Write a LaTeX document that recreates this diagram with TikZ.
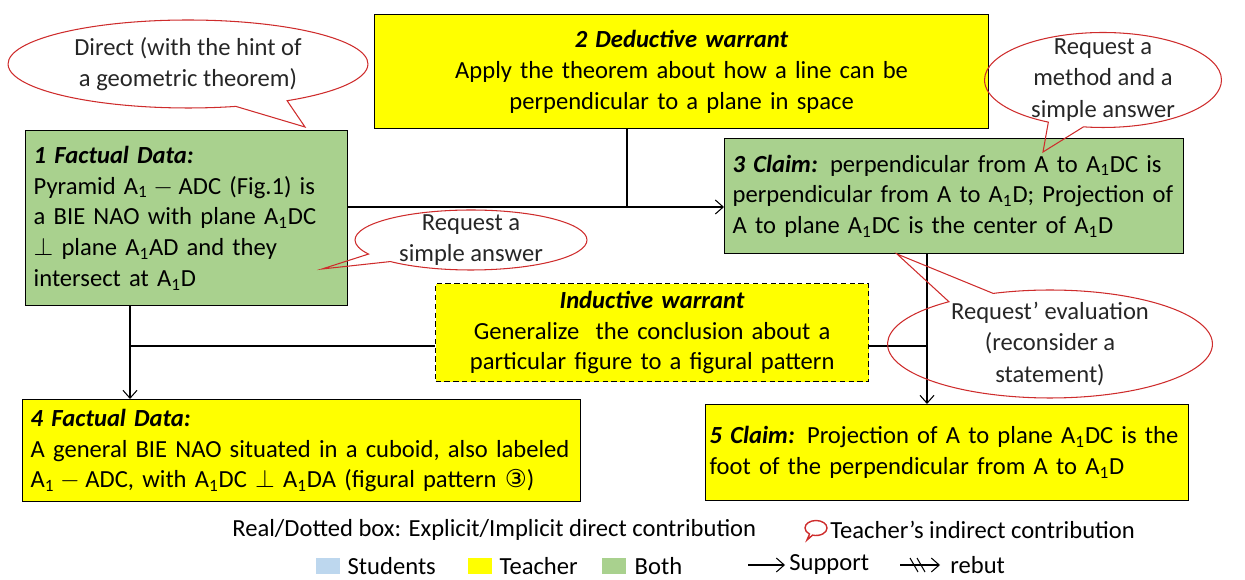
\documentclass[tikz,border=0pt]{standalone}
\usepackage{fontspec}
\setmainfont{Carlito}
\newfontfamily\symfont{DejaVu Sans}
\usepackage{tikz}
\usetikzlibrary{positioning,arrows.meta,shapes.callouts,calc}
\usepackage{xcolor}
\definecolor{teacher}{HTML}{FFFF00}
\definecolor{both}{HTML}{A9D18E}
\definecolor{students}{HTML}{BDD7EE}
\definecolor{callred}{RGB}{206,44,44}
\tikzset{
  argbox/.style={draw,thick,anchor=north west,inner xsep=0.16cm,inner ysep=0pt,
    font=\fontsize{14}{17.5}\selectfont},
  leftbox/.style={argbox,align=left},
  midbox/.style={argbox,align=center},
  implicit/.style={dash pattern=on 3pt off 2pt},
  bubble/.style={ellipse callout,draw=callred,semithick,inner sep=0pt,callout pointer arc=18},
  bubbletext/.style={align=center,font=\fontsize{14}{18}\selectfont,text=black!85},
  link/.style={draw,semithick},
  support/.style={link,-{Straight Barb[length=4.5pt,width=8pt]}},
  swatch/.style={minimum width=0.48cm,minimum height=0.32cm,inner sep=0pt},
  keytext/.style={inner sep=0pt,anchor=west,font=\fontsize{14}{16}\selectfont},
}
\newcommand{\mA}[1]{$\mathrm{#1}$}

\begin{document}
\begin{tikzpicture}[x=0.02cm,y=-0.02cm]
\useasboundingbox (0,0) rectangle (1245,580);

% argument boxes
\node[leftbox,fill=both,minimum width=6.44cm,minimum height=3.5cm,text width=6.12cm] (n1) at (25,130)
{\textbf{\textit{1 Factual Data:}}\\
Pyramid \mA{A_1-ADC} (Fig.1) is\\
a BIE NAO with plane \mA{A_1DC}\\
$\perp$ plane \mA{A_1AD} and they\\
intersect at \mA{A_1D}};

\node[midbox,fill=teacher,minimum width=12.28cm,minimum height=2.28cm,text width=11.96cm] (n2) at (374,14)
{\textbf{\textit{2 Deductive warrant}}\\
Apply the theorem about how a line can be\\
perpendicular to a plane in space};

\node[leftbox,fill=both,minimum width=9.18cm,minimum height=2.3cm,text width=8.86cm] (n3) at (724,138)
{\textbf{\textit{3 Claim:}} perpendicular from A to \mA{A_1DC} is\\
perpendicular from A to \mA{A_1D}; Projection of\\
A to plane \mA{A_1DC} is the center of \mA{A_1D}};

\node[midbox,implicit,fill=teacher,minimum width=8.66cm,minimum height=1.96cm,text width=8.34cm] (nw) at (435,283)
{\textbf{\textit{Inductive warrant}}\\
Generalize\ \ the conclusion about a\\
particular figure to a figural pattern};

\node[leftbox,fill=teacher,minimum width=11.16cm,minimum height=2.04cm,text width=10.84cm] (n4) at (22,399)
{\textbf{\textit{4 Factual Data:}}\\
A general BIE NAO situated in a cuboid, also labeled\\
\mA{A_1-ADC}, with \mA{A_1DC} $\perp$\ \mA{A_1DA} (figural pattern {\symfont ③})};

\node[leftbox,fill=teacher,inner xsep=0.08cm,minimum width=9.66cm,minimum height=1.92cm,text width=9.5cm] (n5) at (705,404)
{\textbf{\textit{5 Claim:}} Projection of A to plane \mA{A_1DC} is the\\
foot of the perpendicular from A to \mA{A_1D}};

% connectors
\coordinate (j2) at (627,207);
\coordinate (j4) at (130,346);
\coordinate (j5) at (927,346);
\draw[link] (n2.south -| j2) -- (j2);
\draw[support] (n1.east |- j2) -- (n3.west |- j2);
\draw[support] (n1.south -| j4) -- (n4.north -| j4);
\draw[link] (j4) -- (nw.west |- j4);
\draw[support] (n3.south -| j5) -- (n5.north -| j5);
\draw[link] (nw.east |- j5) -- (j5);

% teacher's indirect contributions
\coordinate (tipA) at (305,127);
\coordinate (tipB) at (322,269);
\coordinate (tipC) at (1043,152);
\coordinate (tipD) at (897,254);
\node[bubble,minimum width=7.2cm,minimum height=1.76cm,callout absolute pointer=(tipA),
  label={[bubbletext]center:Direct (with the hint of\\a geometric theorem)}] (cA) at (188,64) {};
\node[bubble,minimum width=4.64cm,minimum height=1.2cm,callout absolute pointer=(tipB),
  label={[bubbletext]center:Request a\\simple answer}] (cB) at (471,240) {};
\node[bubble,minimum width=4.74cm,minimum height=1.9cm,callout absolute pointer=(tipC),
  label={[bubbletext]center:Request a\\method and a\\simple answer}] (cC) at (1103,80) {};
\node[bubble,minimum width=6.5cm,minimum height=2.16cm,callout absolute pointer=(tipD),
  label={[bubbletext]center:Request’ evaluation\\(reconsider a\\statement)}] (cD) at (1050,344) {};

% legend
\node[keytext] (k1) at (232,530) {Real/Dotted box: Explicit/Implicit direct contribution};
\coordinate (tipK) at (807,540);
\node[bubble,thick,minimum width=0.44cm,minimum height=0.3cm,callout absolute pointer=(tipK)] (kb) at (816,528) {};
\node[keytext] (k2) at (830,530) {Teacher’s indirect contribution};

\node[swatch,fill=students] (s1) at (328,566) {};
\node[keytext,right=0.14cm of s1] (t1) {Students};
\node[swatch,fill=teacher] (s2) at (480,566) {};
\node[keytext,right=0.14cm of s2] (t2) {Teacher};
\node[swatch,fill=both] (s3) at (614,566) {};
\node[keytext,right=0.16cm of s3] (t3) {Both};

\coordinate (a1) at (748,565);
\coordinate (a2) at (785,565);
\node[keytext] (t4) at (789,565) {Support};
\draw[support] (a1) -- (a2);
\coordinate (r1) at (900,565);
\coordinate (r2) at (940,565);
\node[keytext] (t5) at (950,565) {rebut};
\draw[support] (r1) -- (r2);
\draw[semithick] (910,558) -- (918,572) (917,558) -- (925,572);
\end{tikzpicture}
\end{document}
